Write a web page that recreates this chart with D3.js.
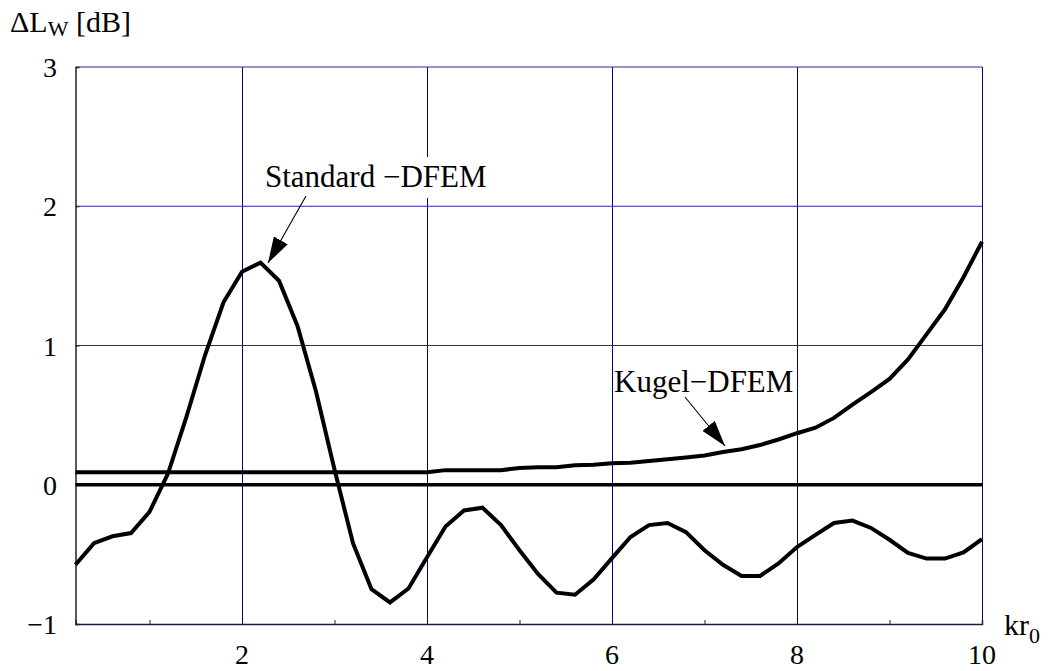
<!DOCTYPE html>
<html>
<head>
<meta charset="utf-8">
<script src="https://cdn.jsdelivr.net/npm/d3@7"></script>
<style>
  html, body { margin: 0; padding: 0; background: #fff; }
</style>
</head>
<body>
<svg id="chart" width="1056" height="671"></svg>
<script>
// Sample positions kr0
const kr = [0.2, 0.4, 0.6, 0.8, 1.0, 1.2, 1.4, 1.6, 1.8, 2.0,
            2.2, 2.4, 2.6, 2.8, 3.0, 3.2, 3.4, 3.6, 3.8, 4.0,
            4.2, 4.4, 4.6, 4.8, 5.0, 5.2, 5.4, 5.6, 5.8, 6.0,
            6.2, 6.4, 6.6, 6.8, 7.0, 7.2, 7.4, 7.6, 7.8, 8.0,
            8.2, 8.4, 8.6, 8.8, 9.0, 9.2, 9.4, 9.6, 9.8, 10.0];

// ΔLW [dB] for the standard DFEM
const standardDFEM = [-0.575, -0.42, -0.37, -0.347, -0.195, 0.08, 0.49, 0.93, 1.31, 1.53,
                      1.595, 1.465, 1.14, 0.67, 0.11, -0.42, -0.75, -0.845, -0.745, -0.52,
                      -0.30, -0.185, -0.165, -0.29, -0.47, -0.64, -0.775, -0.79, -0.68, -0.527,
                      -0.375, -0.29, -0.275, -0.34, -0.47, -0.575, -0.655, -0.655, -0.565, -0.447,
                      -0.36, -0.275, -0.257, -0.31, -0.395, -0.49, -0.53, -0.53, -0.486, -0.39];

// ΔLW [dB] for the sphere (Kugel) DFEM
const kugelDFEM = [0.09, 0.09, 0.09, 0.09, 0.09, 0.09, 0.09, 0.09, 0.09, 0.09,
                   0.09, 0.09, 0.09, 0.09, 0.09, 0.09, 0.09, 0.09, 0.09, 0.09,
                   0.105, 0.105, 0.105, 0.105, 0.12, 0.125, 0.125, 0.14, 0.143, 0.155,
                   0.158, 0.17, 0.183, 0.196, 0.21, 0.235, 0.255, 0.285, 0.325, 0.37,
                   0.41, 0.48, 0.575, 0.665, 0.76, 0.90, 1.08, 1.26, 1.49, 1.745];

// Reference level (exact solution)
const referenceLevel = [0, 0];

const xTicks = [2, 4, 6, 8, 10];
const xMinorTicks = [1, 3, 5, 7, 9];
const yTicks = [-1, 0, 1, 2, 3];
const yTickLabels = ["\u22121", "0", "1", "2", "3"];

const FONT = "Liberation Serif, DejaVu Serif, serif";

const svg = d3.select("#chart");

const x = d3.scaleLinear().domain([0.2, 10]).range([75.5, 982]);
const y = d3.scaleLinear().domain([-1, 3]).range([624, 67]);

const gridColor = "#000080";

// Grid lines
svg.append("g").selectAll("line").data(xTicks).join("line")
  .attr("x1", d => Math.round(x(d)) + 0.5).attr("x2", d => Math.round(x(d)) + 0.5)
  .attr("y1", y(3)).attr("y2", y(-1))
  .attr("stroke", gridColor).attr("stroke-width", 1);

svg.append("g").selectAll("line").data([1, 2, 3]).join("line")
  .attr("x1", x(0.2)).attr("x2", x(10))
  .attr("y1", d => y(d)).attr("y2", d => y(d))
  .attr("stroke", "#2a2a9c").attr("stroke-width", 1);

// Axes (left and bottom frame)
const xAxis = d3.axisBottom(x).tickValues(xMinorTicks).tickSize(-4).tickFormat("");
const gx = svg.append("g").attr("transform", `translate(0,${y(-1)})`).call(xAxis);
gx.select(".domain").attr("stroke", "#1a1a40").attr("stroke-width", 1.5);
gx.selectAll(".tick line").attr("stroke", "#222");

const yAxis = d3.axisLeft(y).tickValues([1, 2]).tickSize(-4).tickFormat("");
const gy = svg.append("g").attr("transform", `translate(${x(0.2)},0)`).call(yAxis);
gy.select(".domain").attr("stroke", "#222").attr("stroke-width", 1.5);
gy.selectAll(".tick line").attr("stroke", "#222");

// Tick labels
svg.append("g").selectAll("text").data(xTicks).join("text")
  .attr("x", d => x(d)).attr("y", 664)
  .attr("text-anchor", "middle").attr("font-family", FONT).attr("font-size", 28).attr("fill", "#000")
  .text(d => d);

svg.append("g").selectAll("text").data(yTicks).join("text")
  .attr("x", 57).attr("y", d => y(d) + 10)
  .attr("text-anchor", "end").attr("font-family", FONT).attr("font-size", 28).attr("fill", "#000")
  .text((d, i) => yTickLabels[i]);

// Axis titles
const yTitle = svg.append("text").attr("x", 10).attr("y", 32)
  .attr("font-family", FONT).attr("font-size", 30).attr("fill", "#000");
yTitle.append("tspan").text("\u0394L");
yTitle.append("tspan").attr("font-size", 22).attr("dy", 4).text("W");
yTitle.append("tspan").attr("dy", -4).text(" [dB]");

const xTitle = svg.append("text").attr("x", 1004).attr("y", 635)
  .attr("font-family", FONT).attr("font-size", 30).attr("fill", "#000");
xTitle.append("tspan").text("kr");
xTitle.append("tspan").attr("font-size", 22).attr("dy", 8).text("0");

// Curves
const line = d3.line().x(d => x(d[0])).y(d => y(d[1]));

svg.append("path")
  .datum([[0.2, referenceLevel[0]], [10, referenceLevel[1]]])
  .attr("d", line).attr("fill", "none").attr("stroke", "#000").attr("stroke-width", 3.5);

svg.append("path")
  .datum(kr.map((k, i) => [k, kugelDFEM[i]]))
  .attr("d", line).attr("fill", "none").attr("stroke", "#000")
  .attr("stroke-width", 4).attr("stroke-linejoin", "miter");

svg.append("path")
  .datum(kr.map((k, i) => [k, standardDFEM[i]]))
  .attr("d", line).attr("fill", "none").attr("stroke", "#000")
  .attr("stroke-width", 4).attr("stroke-linejoin", "miter");

// Annotations with arrows
svg.append("defs").append("marker")
  .attr("id", "arrowhead").attr("viewBox", "0 0 26 16")
  .attr("refX", 26).attr("refY", 8)
  .attr("markerWidth", 26).attr("markerHeight", 16)
  .attr("markerUnits", "userSpaceOnUse").attr("orient", "auto")
  .append("path").attr("d", "M0,0 L26,8 L0,16 Z").attr("fill", "#000");

function annotate(label, tx, ty, fromX, fromY, toX, toY, withBox) {
  const g = svg.append("g");
  const t = g.append("text").attr("x", tx).attr("y", ty)
    .attr("font-family", FONT).attr("font-size", 31).attr("fill", "#000").text(label);
  if (withBox) {
    const b = t.node().getBBox();
    g.insert("rect", "text")
      .attr("x", b.x - 2).attr("y", b.y - 2)
      .attr("width", b.width + 4).attr("height", b.height + 6)
      .attr("fill", "#fff");
  }
  g.append("line")
    .attr("x1", fromX).attr("y1", fromY).attr("x2", toX).attr("y2", toY)
    .attr("stroke", "#000").attr("stroke-width", 1.1)
    .attr("marker-end", "url(#arrowhead)");
}

annotate("Standard \u2212DFEM", 265, 187, 306, 196, 268, 263, true);
annotate("Kugel\u2212DFEM", 614, 392, 685, 397, 725, 446, false);
</script>
</body>
</html>
